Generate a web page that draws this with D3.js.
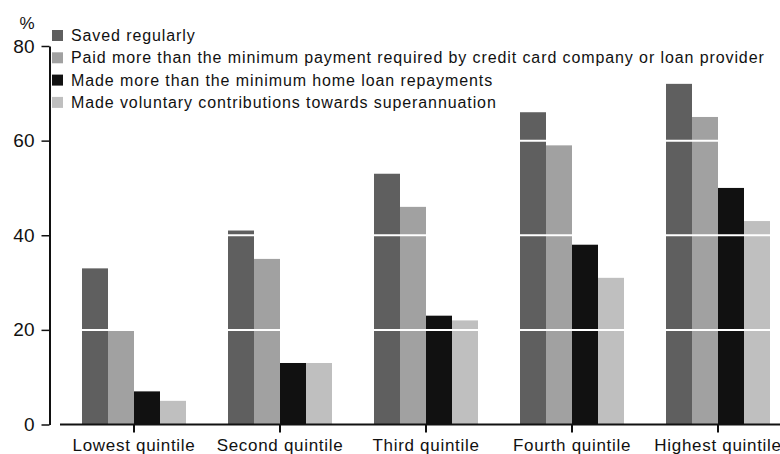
<!DOCTYPE html>
<html>
<head>
<meta charset="utf-8">
<script src="https://cdn.jsdelivr.net/npm/d3@7"></script>
<style>
  html, body { margin: 0; padding: 0; background: #fff; }
  svg { display: block; }
  text { font-family: "Liberation Sans", Arial, sans-serif; fill: #111; }
</style>
</head>
<body>
<svg id="chart" width="780" height="454"></svg>
<script>
// Household income quintiles
const categories = ["Lowest quintile", "Second quintile", "Third quintile", "Fourth quintile", "Highest quintile"];

// Series names (legend order) and their per-quintile percentages
const seriesNames = [
  "Saved regularly",
  "Paid more than the minimum payment required by credit card company or loan provider",
  "Made more than the minimum home loan repayments",
  "Made voluntary contributions towards superannuation"
];
const savedRegularly      = [33, 41, 53, 66, 72];
const paidMoreThanMinimum = [20, 35, 46, 59, 65];
const extraHomeLoan       = [7, 13, 23, 38, 50];
const voluntarySuper      = [5, 13, 22, 31, 43];
const seriesValues = [savedRegularly, paidMoreThanMinimum, extraHomeLoan, voluntarySuper];

const yTicks = [0, 20, 40, 60, 80];
const seriesColors = ["#5f5f5f", "#a1a1a1", "#111111", "#bfbfbf"];

const svg = d3.select("#chart");

const y = d3.scaleLinear().domain([0, 80]).range([424.5, 46]);

const x0 = d3.scaleBand()
  .domain(categories)
  .range([61, 791])
  .paddingInner(42 / 146)
  .paddingOuter(21 / 146);

const x1 = d3.scaleBand()
  .domain(d3.range(seriesNames.length))
  .range([0, x0.bandwidth()]);

// Bars
const groups = svg.append("g").selectAll("g")
  .data(categories)
  .join("g")
  .attr("transform", d => `translate(${x0(d)},0)`);

groups.selectAll("rect")
  .data((c, ci) => seriesValues.map((vals, si) => ({ si, v: vals[ci] })))
  .join("rect")
  .attr("x", d => x1(d.si))
  .attr("width", x1.bandwidth())
  .attr("y", d => y(d.v))
  .attr("height", d => y(0) - y(d.v))
  .attr("fill", d => seriesColors[d.si]);

// White gridlines over the bars
svg.append("g").selectAll("line")
  .data(yTicks.filter(t => t > 0 && t < 80))
  .join("line")
  .attr("x1", 60).attr("x2", 780)
  .attr("y1", d => y(d)).attr("y2", d => y(d))
  .attr("stroke", "#fff")
  .attr("stroke-width", 2);

// Y axis
const yAxis = svg.append("g")
  .attr("transform", "translate(49.5,0)")
  .call(d3.axisLeft(y).tickValues(yTicks).tickSize(8).tickPadding(7).tickSizeOuter(0));
yAxis.select(".domain").attr("stroke", "#111").attr("stroke-width", 2);
yAxis.selectAll(".tick line").attr("stroke", "#111").attr("stroke-width", 1.5);
yAxis.selectAll(".tick text")
  .style("font-family", "'Liberation Sans', Arial, sans-serif")
  .style("font-size", "19px")
  .attr("fill", "#111");

svg.append("text")
  .attr("x", 27).attr("y", 29)
  .attr("text-anchor", "middle")
  .style("font-size", "17px")
  .text("%");

// X axis
const xAxis = svg.append("g")
  .attr("transform", `translate(0,${y(0)})`)
  .call(d3.axisBottom(x0).tickSize(8).tickPadding(6).tickSizeOuter(0));
xAxis.select(".domain").attr("d", "M60,0H780").attr("stroke", "#111").attr("stroke-width", 2);
xAxis.selectAll(".tick line").attr("stroke", "#111").attr("stroke-width", 2);
xAxis.selectAll(".tick text")
  .style("font-family", "'Liberation Sans', Arial, sans-serif")
  .style("font-size", "17px")
  .style("letter-spacing", "0.7px")
  .attr("fill", "#111");

// Legend
const legend = svg.append("g").attr("transform", "translate(52,30)");
const rows = legend.selectAll("g")
  .data(seriesNames)
  .join("g")
  .attr("transform", (d, i) => `translate(0,${i * 22.3})`);
rows.append("rect")
  .attr("width", 11).attr("height", 11)
  .attr("fill", (d, i) => seriesColors[i]);
rows.append("text")
  .attr("x", 19).attr("y", 11)
  .style("font-size", "16px")
  .style("letter-spacing", "0.9px")
  .text(d => d);
</script>
</body>
</html>
